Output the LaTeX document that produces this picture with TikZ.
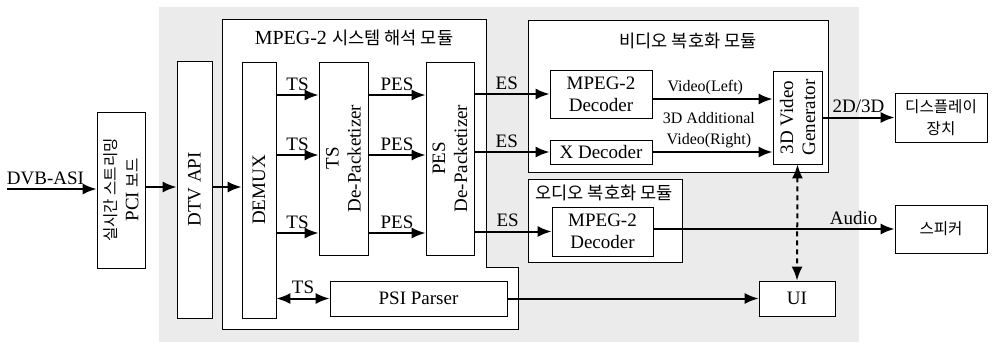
\documentclass[tikz,border=0pt]{standalone}
\usepackage{fontspec}
\setmainfont{Liberation Serif}
\newfontfamily\kr[Scale=0.82]{Noto Sans CJK KR}
\newfontfamily\krbig[Scale=0.88]{Noto Sans CJK KR}
\usepackage{tikz}
\usetikzlibrary{arrows.meta}
\definecolor{bggray}{RGB}{235,235,235}
\tikzstyle{box}=[draw,fill=white,line width=0.8pt,inner sep=0pt,align=center]
\tikzstyle{arr}=[draw,line width=2pt,-{Latex[length=14pt,width=11pt]}]
\tikzstyle{both}=[draw,line width=2pt,{Latex[length=14pt,width=11pt]}-{Latex[length=14pt,width=11pt]}]
\tikzstyle{lbl}=[above,inner sep=3.5pt]
\tikzstyle{vlbl}=[above,inner sep=3pt,font=\fontsize{16}{21}\selectfont]
\tikzstyle{krtext}=[font=\fontsize{19}{22}\selectfont\kr]
\tikzstyle{modtitle}=[font=\fontsize{20}{22}\selectfont]

\begin{document}
\begin{tikzpicture}[x=1pt,y=-1pt,font=\fontsize{19}{22}\selectfont]
    \useasboundingbox (0,0) rectangle (992,343);
    % Gray area and the three module frames
    \fill[bggray] (159,7) rectangle (859,342);
    \draw[line width=0.8pt,fill=white] (222,19) -- (486,19) -- (486,267) -- (518,267) -- (518,329) -- (222,329) -- cycle;
    \draw[line width=0.8pt,fill=white] (528,20) rectangle (828,172);
    \draw[line width=0.8pt,fill=white] (528,179) rectangle (682,262);
    \node[modtitle] (systitle) at (354,38) {MPEG-2 {\krbig 시스템 해석 모듈}};
    \node[modtitle] (vidtitle) at (688,41) {\krbig 비디오 복호화 모듈};
    \node[modtitle] (audtitle) at (604,193) {\krbig 오디오 복호화 모듈};

    % Then the blocks
    \node[box,minimum width=48pt,minimum height=156pt,
          label={[rotate=90,align=center]center:{{\kr 실시간 스트리밍}\\PCI {\kr 보드}}}] (pci) at (121,190) {};
    \node[box,minimum width=35pt,minimum height=257pt,
          label={[rotate=90]center:DTV API}] (dtv) at (194.5,189.5) {};
    \node[box,minimum width=34pt,minimum height=256pt,
          label={[rotate=90]center:DEMUX}] (demux) at (259,190) {};
    \node[box,minimum width=49pt,minimum height=193pt,
          label={[rotate=90,align=center]center:{TS\\De-Packetizer}}] (tsdp) at (343.5,158.5) {};
    \node[box,minimum width=48pt,minimum height=193pt,
          label={[rotate=90,align=center]center:{PES\\De-Packetizer}}] (pesdp) at (450,158.5) {};
    \node[box,minimum width=177pt,minimum height=35pt] (psi) at (418.5,298.5) {PSI Parser};
    \node[box,minimum width=102pt,minimum height=48pt] (vdec) at (601,94) {MPEG-2\\Decoder};
    \node[box,minimum width=102pt,minimum height=24pt] (xdec) at (601,152) {X Decoder};
    \node[box,minimum width=101pt,minimum height=49pt] (adec) at (602.5,231.5) {MPEG-2\\Decoder};
    \node[box,minimum width=49pt,minimum height=93pt,
          label={[rotate=90,align=center]center:{3D Video\\Generator}}] (gen) at (797.5,117.5) {};
    \node[box,minimum width=76pt,minimum height=35pt] (ui) at (797,298.5) {UI};
    \node[box,krtext,minimum width=92pt,minimum height=49pt] (disp) at (941,117.5) {디스플레이\\장치};
    \node[box,krtext,minimum width=92pt,minimum height=48pt] (spk) at (941,229) {스피커};

    % Connect the blocks
    \coordinate (in) at (7,189);
    \draw[arr] (in) -- node[lbl,pos=0.43] {DVB-ASI} (pci.west |- in);
    \draw[arr] (pci.east |- 0,187) -- (dtv.west |- 0,187);
    \draw[arr] (dtv.east |- 0,187) -- (demux.west |- 0,187);
    \foreach \y in {95,155,233}
        \draw[arr] (demux.east |- 0,\y) -- node[lbl] {TS} (tsdp.west |- 0,\y);
    \foreach \y in {95,155,233}
        \draw[arr] (tsdp.east |- 0,\y) -- node[lbl] {PES} (pesdp.west |- 0,\y);
    \foreach \dest in {vdec, xdec, adec}
        \draw[arr] (pesdp.east |- \dest) -- node[lbl,pos=0.43] {ES} (\dest.west);
    \draw[arr] (vdec.east |- 0,99) -- node[vlbl,pos=0.44] {Video(Left)} (gen.west |- 0,99);
    \draw[arr] (xdec.east) -- node[vlbl,align=center,pos=0.47] {3D Additional\\Video(Right)} (gen.west |- xdec);
    \draw[arr] (gen.east |- disp) -- node[lbl] {2D/3D} (disp.west);
    \draw[arr] (adec.east |- spk) -- node[lbl,pos=0.83] {Audio} (spk.west);
    \draw[both] (demux.east |- psi) -- node[lbl] {TS} (psi.west);
    \draw[arr] (psi.east) -- (ui.west);
    \draw[both,dash pattern=on 5pt off 4pt] (gen.south) -- (ui.north);
\end{tikzpicture}
\end{document}
